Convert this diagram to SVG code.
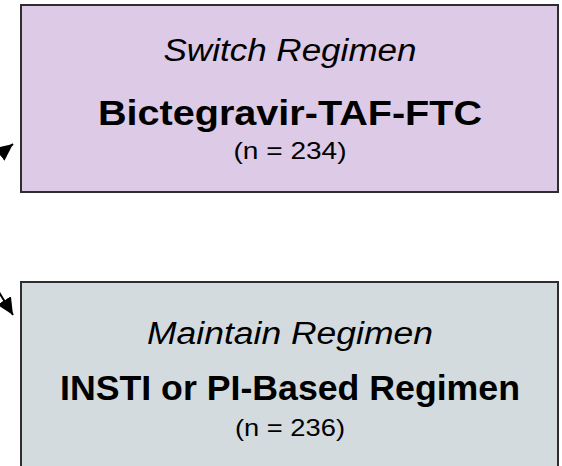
<svg xmlns="http://www.w3.org/2000/svg" width="562" height="466" viewBox="0 0 562 466">
  <style>
    .box { stroke: #2e2e2e; stroke-width: 2; }
    .switch { fill: #dccae6; }
    .maintain { fill: #d3dbdf; }
    text { font-family: "Liberation Sans", Arial, sans-serif; fill: #000; text-anchor: middle; }
    .label { font-style: italic; font-size: 31px; }
    .drug { font-weight: bold; font-size: 35px; }
    .count { font-size: 24px; }
    .arrow { stroke: #000; stroke-width: 2; fill: none; }
  </style>
  <defs>
    <marker id="head" markerUnits="userSpaceOnUse" markerWidth="18" markerHeight="16" refX="17" refY="8" orient="auto">
      <path d="M0,0 L17,8 L0,16 Z" fill="#000"/>
    </marker>
  </defs>

  <g id="connectors">
    <line class="arrow" x1="-40" y1="185" x2="13" y2="144" marker-end="url(#head)"/>
    <line class="arrow" x1="-30" y1="245" x2="13" y2="315" marker-end="url(#head)"/>
  </g>

  <g id="switch-regimen">
    <rect class="box switch" x="21" y="5" width="537" height="187"/>
    <text class="label" x="290" y="61" textLength="253" lengthAdjust="spacingAndGlyphs">Switch Regimen</text>
    <text class="drug" x="290" y="125" textLength="384" lengthAdjust="spacingAndGlyphs">Bictegravir-TAF-FTC</text>
    <text class="count" x="290" y="159" textLength="113" lengthAdjust="spacingAndGlyphs">(n = 234)</text>
  </g>

  <g id="maintain-regimen">
    <rect class="box maintain" x="21" y="282" width="537" height="190"/>
    <text class="label" x="290" y="344" textLength="286" lengthAdjust="spacingAndGlyphs">Maintain Regimen</text>
    <text class="drug" x="290" y="400" textLength="460" lengthAdjust="spacingAndGlyphs">INSTI or PI-Based Regimen</text>
    <text class="count" x="290" y="436" textLength="110" lengthAdjust="spacingAndGlyphs">(n = 236)</text>
  </g>
</svg>
